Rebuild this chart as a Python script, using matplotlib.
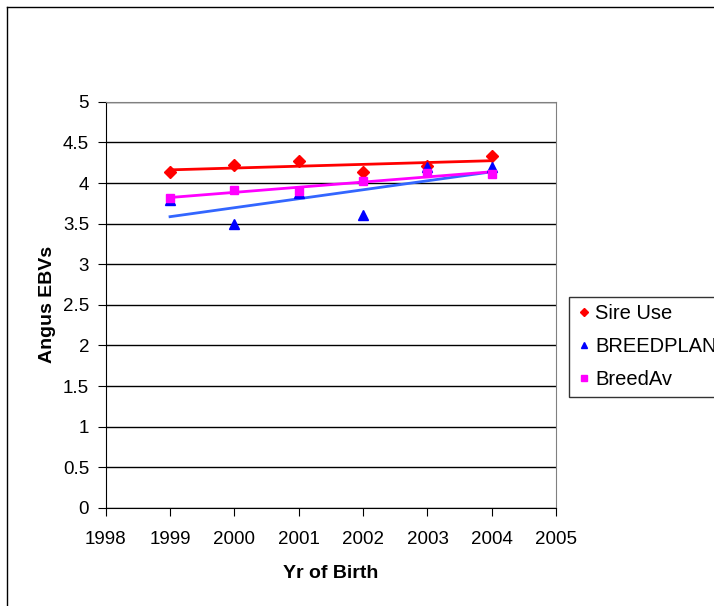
import numpy as np
import matplotlib
matplotlib.use("Agg")
import matplotlib.pyplot as plt
from matplotlib.lines import Line2D

plt.rcParams['font.family'] = ['Liberation Sans', 'DejaVu Sans']

years = [1999, 2000, 2001, 2002, 2003, 2004]
sire_use = [4.14, 4.22, 4.27, 4.14, 4.21, 4.33]
breedplan = [3.79, 3.50, 3.88, 3.60, 4.20, 4.20]
breedav = [3.81, 3.92, 3.90, 4.02, 4.12, 4.11]

fig = plt.figure(figsize=(7.14, 6.06), dpi=100)
ax = fig.add_axes([0.148, 0.162, 0.631, 0.670])

def trend(y, color):
    k, b = np.polyfit(years, y, 1)
    xs = np.array([years[0], years[-1]])
    ax.plot(xs, k * xs + b, color=color, lw=2, zorder=2)

trend(breedplan, '#3366ff')
trend(breedav, '#ff00ff')
trend(sire_use, '#ff0000')

ax.plot(years, sire_use, 'D', color='#ff0000', ms=6, ls='none', label='Sire Use', zorder=3)
ax.plot(years, breedplan, '^', color='#0000ff', ms=7, ls='none', label='BREEDPLAN', zorder=3)
ax.plot(years, breedav, 's', color='#ff00ff', ms=6, ls='none', label='BreedAv', zorder=4)

ax.set_xlim(1998, 2005)
ax.set_ylim(0, 5)
ax.set_xticks(range(1998, 2006))
ax.set_yticks(np.arange(0, 5.01, 0.5))
ax.set_yticklabels(['0', '0.5', '1', '1.5', '2', '2.5', '3', '3.5', '4', '4.5', '5'])
ax.yaxis.grid(True, color='black', lw=1)
ax.set_axisbelow(True)
ax.tick_params(labelsize=13.5, direction='out', length=6, color='black')
ax.tick_params(axis='x', pad=11)
ax.tick_params(axis='y', pad=6)
for s in ['top', 'right']:
    ax.spines[s].set_color('#808080')
ax.spines['left'].set_color('black')
ax.spines['bottom'].set_color('black')

ax.set_xlabel('Yr of Birth', fontsize=14, fontweight='bold', labelpad=12)
ax.set_ylabel('Angus EBVs', fontsize=14, fontweight='bold', labelpad=5)

leg = fig.legend(loc='upper left', bbox_to_anchor=(0.797, 0.51), borderaxespad=0,
                 fontsize=14.5, frameon=True, fancybox=False, edgecolor='black',
                 handletextpad=0.22, handlelength=0.72, borderpad=0.36, labelspacing=0.7,
                 markerscale=0.7)
leg.get_frame().set_linewidth(1)

# chart border (left and top edges visible)
fig.add_artist(Line2D([7 / 714, 7 / 714], [0, 1 - 7 / 606], transform=fig.transFigure, color='black', lw=1))
fig.add_artist(Line2D([7 / 714, 1], [1 - 7 / 606, 1 - 7 / 606], transform=fig.transFigure, color='black', lw=1))

fig.savefig('out.png', dpi=100)
